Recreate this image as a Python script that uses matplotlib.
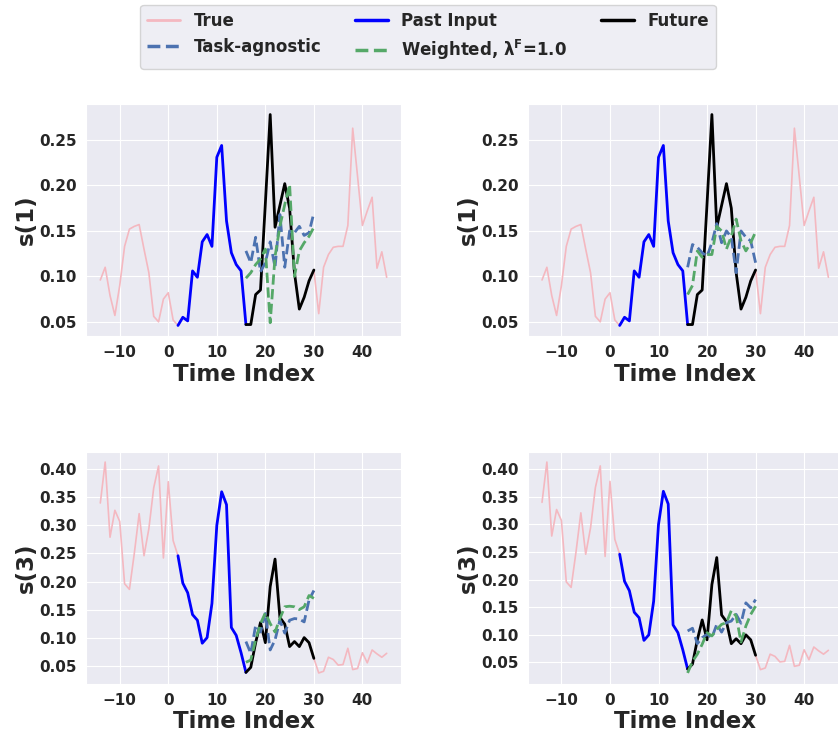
import numpy as np
import matplotlib
matplotlib.use("Agg")
import matplotlib.pyplot as plt
import seaborn as sns
from matplotlib.lines import Line2D

sns.set_style("darkgrid")
plt.rcParams['font.family'] = ['DejaVu Sans']
plt.rcParams['font.weight'] = 'bold'
plt.rcParams['axes.labelweight'] = 'bold'
plt.rcParams['mathtext.default'] = 'bf'

# ---- time indices ----
t_true_a = list(range(-14, 3))      # -14..2
t_past = list(range(2, 17))         # 2..16
t_future = list(range(16, 31))      # 16..30
t_true_b = list(range(30, 46))      # 30..45

# ---- s(1) series ----
s1_true_a = [0.096, 0.110, 0.079, 0.057, 0.090, 0.133, 0.152, 0.155, 0.157, 0.130,
             0.104, 0.056, 0.050, 0.075, 0.082, 0.052, 0.046]
s1_past = [0.046, 0.055, 0.051, 0.106, 0.099, 0.138, 0.146, 0.133, 0.231, 0.244,
           0.161, 0.126, 0.113, 0.106, 0.047]
s1_future = [0.047, 0.047, 0.080, 0.085, 0.180, 0.278, 0.154, 0.178, 0.202, 0.175,
             0.104, 0.064, 0.077, 0.095, 0.107]
s1_true_b = [0.107, 0.059, 0.110, 0.124, 0.132, 0.133, 0.133, 0.156, 0.263, 0.210,
             0.156, 0.172, 0.187, 0.109, 0.127, 0.099]
s1_agn_left = [0.128, 0.115, 0.143, 0.105, 0.115, 0.138, 0.110, 0.168, 0.110, 0.150,
               0.148, 0.155, 0.145, 0.148, 0.170]
s1_wtd_left = [0.098, 0.104, 0.113, 0.119, 0.130, 0.049, 0.122, 0.155, 0.179, 0.201,
               0.100, 0.128, 0.137, 0.144, 0.154]
s1_agn_right = [0.110, 0.135, 0.132, 0.126, 0.122, 0.137, 0.158, 0.137, 0.150, 0.143,
                0.104, 0.150, 0.143, 0.139, 0.115]
s1_wtd_right = [0.080, 0.090, 0.128, 0.121, 0.124, 0.124, 0.155, 0.150, 0.130, 0.144,
                0.163, 0.139, 0.128, 0.137, 0.149]

# ---- s(3) series ----
s3_true_a = [0.340, 0.413, 0.279, 0.327, 0.307, 0.196, 0.186, 0.250, 0.321, 0.246,
             0.294, 0.367, 0.406, 0.242, 0.378, 0.273, 0.246]
s3_past = [0.246, 0.197, 0.180, 0.141, 0.131, 0.090, 0.100, 0.161, 0.300, 0.360,
           0.337, 0.118, 0.104, 0.073, 0.038]
s3_future = [0.038, 0.047, 0.091, 0.127, 0.091, 0.191, 0.240, 0.136, 0.124, 0.084,
             0.093, 0.084, 0.100, 0.091, 0.063]
s3_true_b = [0.063, 0.037, 0.040, 0.065, 0.061, 0.051, 0.052, 0.081, 0.043, 0.045,
             0.073, 0.055, 0.078, 0.071, 0.065, 0.072]
s3_agn_left = [0.093, 0.072, 0.122, 0.110, 0.143, 0.078, 0.096, 0.131, 0.108, 0.131,
               0.134, 0.133, 0.128, 0.167, 0.184]
s3_wtd_left = [0.056, 0.060, 0.096, 0.125, 0.144, 0.125, 0.110, 0.134, 0.155, 0.156,
               0.155, 0.150, 0.155, 0.175, 0.170]
s3_agn_right = [0.107, 0.112, 0.084, 0.095, 0.101, 0.095, 0.119, 0.105, 0.122, 0.125,
                0.137, 0.121, 0.158, 0.149, 0.164]
s3_wtd_right = [0.031, 0.052, 0.065, 0.083, 0.104, 0.098, 0.110, 0.119, 0.122, 0.144,
                0.134, 0.087, 0.116, 0.137, 0.152]

panels = [
    ("s(1)", s1_true_a, s1_past, s1_future, s1_true_b, s1_agn_left, s1_wtd_left),
    ("s(1)", s1_true_a, s1_past, s1_future, s1_true_b, s1_agn_right, s1_wtd_right),
    ("s(3)", s3_true_a, s3_past, s3_future, s3_true_b, s3_agn_left, s3_wtd_left),
    ("s(3)", s3_true_a, s3_past, s3_future, s3_true_b, s3_agn_right, s3_wtd_right),
]

W, H = 838, 735
fig = plt.figure(figsize=(W / 100, H / 100), dpi=100)
aw, ah = 315 / W, 232 / H
positions = [
    [86 / W, (H - 336) / H, aw, ah],
    [527.7 / W, (H - 336) / H, aw, ah],
    [86 / W, (H - 683.5) / H, aw, ah],
    [527.7 / W, (H - 683.5) / H, aw, ah],
]

c_true = '#F4B8C0'
c_agn = '#4C72B0'
c_wtd = '#55A868'

for pos, (ylab, ta, past, fut, tb, agn, wtd) in zip(positions, panels):
    ax = fig.add_axes(pos)
    ax.plot(t_true_a, ta, color=c_true, lw=1.2)
    ax.plot(t_true_b, tb, color=c_true, lw=1.2)
    ax.plot(t_past, past, color='blue', lw=2)
    ax.plot(t_future, fut, color='black', lw=2)
    ax.plot(t_future, agn, color=c_agn, lw=2, ls='--')
    ax.plot(t_future, wtd, color=c_wtd, lw=2, ls='--')
    ax.set_xticks([-10, 0, 10, 20, 30, 40])
    ax.set_xlabel('Time Index', fontsize=16.5, fontweight='bold', labelpad=2)
    ax.set_ylabel(ylab, fontsize=16.5, fontweight='bold', labelpad=1)
    ax.tick_params(labelsize=11, pad=3)
    for lbl in ax.get_xticklabels() + ax.get_yticklabels():
        lbl.set_fontweight('bold')
    if ylab == 's(1)':
        ax.set_yticks([0.05, 0.10, 0.15, 0.20, 0.25])
    else:
        ax.set_yticks([0.05, 0.10, 0.15, 0.20, 0.25, 0.30, 0.35, 0.40])

handles = [
    Line2D([], [], color=c_true, lw=2),
    Line2D([], [], color=c_agn, lw=2.5, ls='--'),
    Line2D([], [], color='blue', lw=2.5),
    Line2D([], [], color=c_wtd, lw=2.5, ls='--'),
    Line2D([], [], color='black', lw=2.5),
]
labels = ['True', 'Task-agnostic', 'Past Input', r'Weighted, $\lambda^F$=1.0', 'Future']
leg = fig.legend(handles, labels, ncol=3, loc='upper center',
                 bbox_to_anchor=(428 / W, 1 - 5 / H), borderaxespad=0,
                 prop={'size': 12, 'weight': 'bold'}, frameon=True,
                 columnspacing=2.0, handlelength=2.0)

fig.savefig('out.png', dpi=100)
